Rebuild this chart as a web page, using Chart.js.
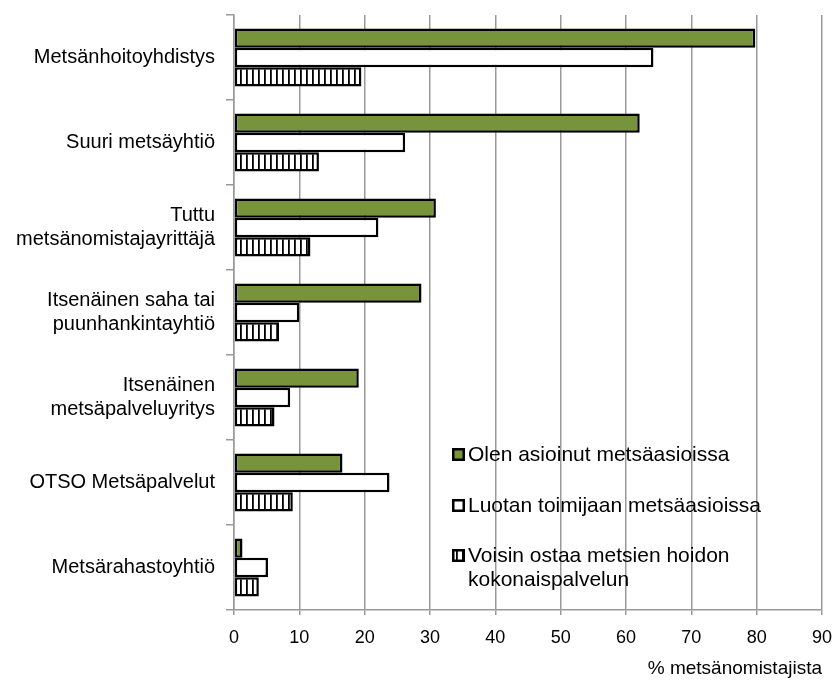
<!DOCTYPE html>
<html>
<head>
<meta charset="utf-8">
<script src="https://cdn.jsdelivr.net/npm/chart.js@4/dist/chart.umd.min.js"></script>
<style>
  body { margin: 0; background: #fff; }
  #wrap { width: 832px; height: 680px; }
</style>
</head>
<body>
<div id="wrap"><canvas id="chart"></canvas></div>
<script>
const categories = [
    'Metsänhoitoyhdistys',
    'Suuri metsäyhtiö',
    ['Tuttu', 'metsänomistajayrittäjä'],
    ['Itsenäinen saha tai', 'puunhankintayhtiö'],
    ['Itsenäinen', 'metsäpalveluyritys'],
    'OTSO Metsäpalvelut',
    'Metsärahastoyhtiö'
]
const seriesNames = [
    'Olen asioinut metsäasioissa',
    'Luotan toimijaan metsäasioissa',
    ['Voisin ostaa metsien hoidon', 'kokonaispalvelun']
]
const asioinut = [79.8, 62.1, 30.9, 28.7, 19.1, 16.6, 1.3]
const luotan = [64.2, 26.2, 22.1, 10.0, 8.6, 23.8, 5.2]
const voisin = [19.5, 13.0, 11.7, 6.9, 6.2, 9.0, 3.8]
const xTicks = [0, 10, 20, 30, 40, 50, 60, 70, 80, 90]

const font = "'Liberation Sans', Arial, sans-serif"

// vertical stripes for the third series
function stripes() {
    const c = document.createElement('canvas')
    c.width = 6
    c.height = 6
    const g = c.getContext('2d')
    g.fillStyle = '#fff'
    g.fillRect(0, 0, 6, 6)
    g.fillStyle = '#000'
    g.fillRect(0, 0, 1.8, 6)
    return g.createPattern(c, 'repeat')
}
const hatch = stripes()

// legend drawn inside the plot, lower right
const innerLegend = {
    id: 'innerLegend',
    afterDraw(chart) {
        const ctx = chart.ctx
        const x0 = 452
        const rows = [454, 505, 555]
        ctx.save()
        ctx.font = '21px ' + font
        ctx.textBaseline = 'middle'
        chart.data.datasets.forEach((ds, i) => {
            const y = rows[i]
            ctx.fillStyle = ds.backgroundColor
            ctx.fillRect(x0, y - 6, 13, 13)
            ctx.lineWidth = 2.5
            ctx.strokeStyle = '#000'
            ctx.strokeRect(x0 + 1.25, y - 4.75, 10.5, 10.5)
            ctx.fillStyle = '#000'
            const lines = Array.isArray(seriesNames[i]) ? seriesNames[i] : [seriesNames[i]]
            lines.forEach((t, k) => ctx.fillText(t, x0 + 16, y + 1 + k * 24))
        })
        ctx.restore()
    }
}

const context = document.getElementById('chart')
new Chart(context, {
    type: 'bar',
    data: {
        labels: categories,
        datasets: [
            { label: 'Olen asioinut metsäasioissa', data: asioinut, backgroundColor: '#77933c' },
            { label: 'Luotan toimijaan metsäasioissa', data: luotan, backgroundColor: '#ffffff' },
            { label: 'Voisin ostaa metsien hoidon kokonaispalvelun', data: voisin, backgroundColor: hatch }
        ]
    },
    options: {
        indexAxis: 'y',
        responsive: true,
        maintainAspectRatio: false,
        animation: false,
        datasets: {
            bar: {
                borderColor: '#000',
                borderWidth: 2.5,
                borderSkipped: false,
                categoryPercentage: 0.68,
                barPercentage: 1
            }
        },
        layout: { padding: { top: 15, right: 10, left: 0, bottom: 0 } },
        plugins: {
            legend: { display: false },
            tooltip: { enabled: false }
        },
        scales: {
            x: {
                min: 0,
                max: 90,
                afterBuildTicks: s => { s.ticks = xTicks.map(v => ({ value: v })) },
                grid: { color: '#999', lineWidth: 1.5, tickLength: 5 },
                border: { color: '#999', width: 1.5 },
                ticks: { color: '#000', padding: 12, font: { family: font, size: 18 } },
                title: {
                    display: true,
                    text: '% metsänomistajista',
                    align: 'end',
                    color: '#000',
                    padding: { top: 8, bottom: 0 },
                    font: { family: font, size: 19 }
                },
                afterFit: s => { s.height = 70; s.paddingLeft = 0; s.paddingRight = 0 }
            },
            y: {
                grid: { offset: true, drawOnChartArea: false, color: '#999', lineWidth: 1.5, tickLength: 8 },
                border: { color: '#999', width: 1.5 },
                ticks: { color: '#000', padding: 11, font: { family: font, size: 20, lineHeight: 1.17 } },
                afterFit: s => { s.width = 234; s.paddingTop = 0; s.paddingBottom = 0 }
            }
        }
    },
    plugins: [innerLegend]
})
</script>
</body>
</html>
